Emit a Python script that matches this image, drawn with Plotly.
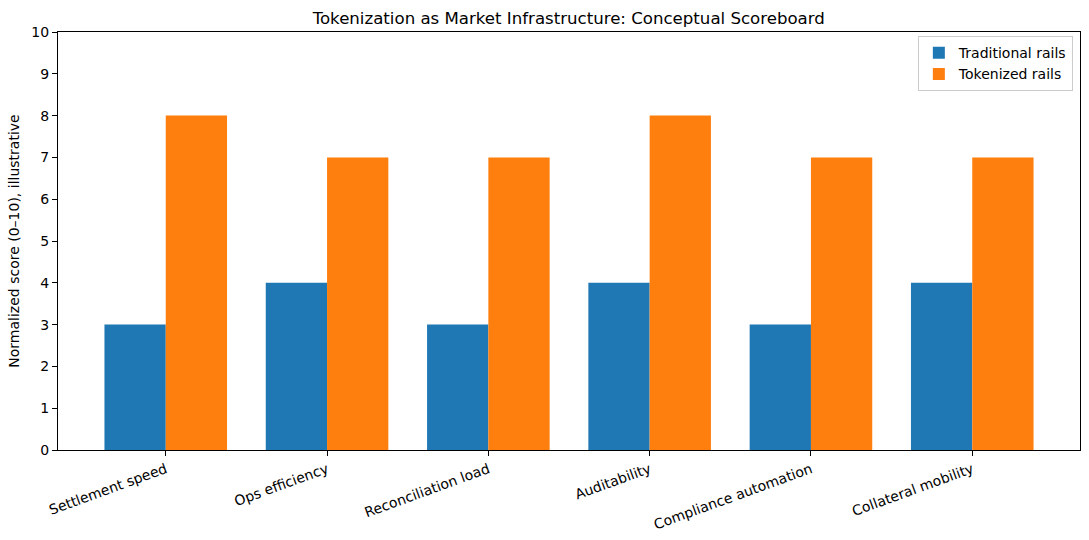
import plotly.graph_objects as go

categories = ["Settlement speed", "Ops efficiency", "Reconciliation load",
              "Auditability", "Compliance automation", "Collateral mobility"]
traditional = [3, 4, 3, 4, 3, 4]
tokenized = [8, 7, 7, 8, 7, 7]
y_ticks = list(range(0, 11))

fig = go.Figure()
fig.add_trace(go.Bar(x=categories, y=traditional, name="Traditional rails",
                     marker=dict(color="#1f77b4", line=dict(width=0))))
fig.add_trace(go.Bar(x=categories, y=tokenized, name="Tokenized rails",
                     marker=dict(color="#ff7f0e", line=dict(width=0))))

font = "DejaVu Sans"
fig.update_layout(
    width=1089, height=540,
    margin=dict(l=57.5, r=9, t=32, b=90),
    paper_bgcolor="white", plot_bgcolor="white",
    barmode="group", bargap=0.24, bargroupgap=0,
    font=dict(family=font, size=14, color="#000"),
    title=dict(text="Tokenization as Market Infrastructure: Conceptual Scoreboard",
               x=(57.5 + 1080) / 2 / 1089, xanchor="center", y=1 - 18 / 540, yanchor="middle",
               font=dict(family=font, size=16.6, color="#000")),
    legend=dict(x=0.993, y=0.99, xanchor="right", yanchor="top",
                bgcolor="rgba(255,255,255,0.8)", bordercolor="#cccccc", borderwidth=1,
                font=dict(family=font, size=14), tracegroupgap=2, itemwidth=30),
    xaxis=dict(type="category", range=[-0.668, 5.668], tickangle=-20,
               showline=True, linecolor="#000", linewidth=1, mirror=True,
               ticks="outside", ticklen=5, tickcolor="#000", showgrid=False,
               tickfont=dict(family=font, size=14)),
    yaxis=dict(range=[0, 10], tickvals=y_ticks, showline=True, linecolor="#000", linewidth=1,
               mirror=True, ticks="outside", ticklen=5, tickcolor="#000", showgrid=False,
               zeroline=False, tickfont=dict(family=font, size=14),
               title=dict(text="Normalized score (0–10), illustrative", standoff=8,
                          font=dict(family=font, size=14))),
    showlegend=True,
)
fig.write_html("out.html")
